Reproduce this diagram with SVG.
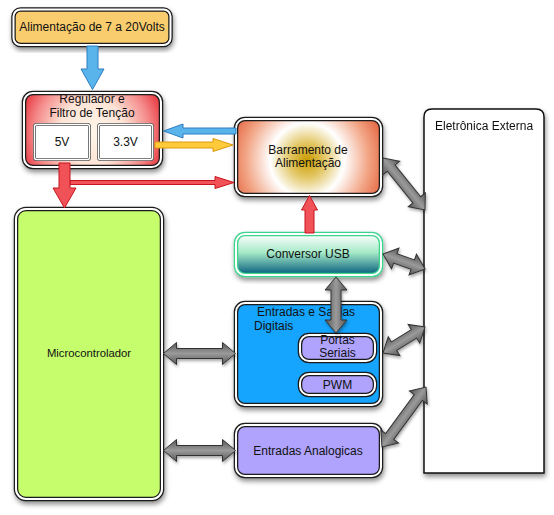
<svg xmlns="http://www.w3.org/2000/svg" width="554" height="515" viewBox="0 0 554 515">
<style>
text{font-family:"Liberation Sans",Arial,sans-serif;font-size:12px;fill:#111}
.c{text-anchor:middle}
.ob{stroke:#1a1a1a;stroke-width:4.5}
.wb{fill:none;stroke:#fff;stroke-width:2}
.gb{stroke:#555;stroke-width:3}
.wg{fill:none;stroke:#fff;stroke-width:1.4}
.ga{fill:url(#gray);stroke:#333;stroke-width:1}
.blue{fill:#5AB4EC;stroke:#2C7DC0;stroke-width:1}
.yel{fill:#FFCB3A;stroke:#D99A10;stroke-width:1}
.red{fill:#F05258;stroke:#C8141E;stroke-width:1}
</style>
<defs>
<filter id="sh" x="-20%" y="-20%" width="140%" height="140%">
<feDropShadow dx="1" dy="3" stdDeviation="2.5" flood-color="#000" flood-opacity="0.45"/>
</filter>
<filter id="sh2" x="-20%" y="-50%" width="140%" height="200%">
<feDropShadow dx="1" dy="2" stdDeviation="1.5" flood-color="#000" flood-opacity="0.35"/>
</filter>
<radialGradient id="reg" gradientUnits="userSpaceOnUse" cx="92" cy="132" r="82">
<stop offset="0" stop-color="#FFF6EA"/>
<stop offset="0.4" stop-color="#FDE4D6"/>
<stop offset="0.7" stop-color="#F48A8A"/>
<stop offset="1" stop-color="#E3131E"/>
</radialGradient>
<radialGradient id="bar" gradientUnits="userSpaceOnUse" cx="307" cy="160" r="88">
<stop offset="0" stop-color="#C99C00"/>
<stop offset="0.2" stop-color="#E3C766"/>
<stop offset="0.42" stop-color="#FFFFFF"/>
<stop offset="0.7" stop-color="#F2A484"/>
<stop offset="1" stop-color="#E04E28"/>
</radialGradient>
<linearGradient id="usb" x1="0" y1="0" x2="0" y2="1">
<stop offset="0" stop-color="#FFFFFF"/>
<stop offset="0.45" stop-color="#A6EAC8"/>
<stop offset="1" stop-color="#005A7A"/>
</linearGradient>
<linearGradient id="gray" x1="0" y1="0" x2="0" y2="1">
<stop offset="0" stop-color="#555"/>
<stop offset="0.5" stop-color="#9A9A9A"/>
<stop offset="1" stop-color="#555"/>
</linearGradient>
</defs>

<g id="ext" filter="url(#sh)">
<path d="M424,473 L424,117 Q424,109 432,109 L536,109 Q544,109 544,117 L544,473 Z" fill="#fff" stroke="#111" stroke-width="1.5"/>
<text x="435" y="130">Eletrônica Externa</text>
</g>

<g id="power">
<g filter="url(#sh)"><rect x="13.5" y="9.5" width="157" height="35.5" rx="7" fill="#F9CD6E" class="ob"/></g>
<rect x="13.5" y="9.5" width="157" height="35.5" rx="7" class="wb"/>
<text class="c" x="92" y="31">Alimentação de 7 a 20Volts</text>
</g>

<g id="regulador">
<g filter="url(#sh)"><rect x="24" y="93" width="137" height="74" rx="9" fill="url(#reg)" class="ob"/></g>
<rect x="24" y="93" width="137" height="74" rx="9" class="wb"/>
<text class="c" x="92" y="103">Regulador e</text>
<text class="c" x="92" y="117">Filtro de Tenção</text>
<g id="v5">
<rect x="34.5" y="124.5" width="55" height="35" rx="2" fill="#fff" class="gb"/>
<rect x="34.5" y="124.5" width="55" height="35" rx="2" class="wg"/>
<text class="c" x="62" y="146">5V</text>
</g>
<g id="v33">
<rect x="98.5" y="124.5" width="54" height="35" rx="2" fill="#fff" class="gb"/>
<rect x="98.5" y="124.5" width="54" height="35" rx="2" class="wg"/>
<text class="c" x="125.5" y="146">3.3V</text>
</g>
</g>

<g id="barramento">
<g filter="url(#sh)"><rect x="236" y="119" width="145" height="76" rx="9" fill="url(#bar)" class="ob"/></g>
<rect x="236" y="119" width="145" height="76" rx="9" class="wb"/>
<text class="c" x="308" y="154">Barramento de</text>
<text class="c" x="308" y="167">Alimentação</text>
</g>

<g id="usbconv">
<g filter="url(#sh)"><rect x="236" y="234" width="145" height="41" rx="9" fill="url(#usb)" stroke="#3ED48E" stroke-width="4.5"/></g>
<rect x="236" y="234" width="145" height="41" rx="9" class="wb"/>
<text class="c" x="308" y="258">Conversor USB</text>
</g>

<g id="digitais">
<g filter="url(#sh)"><rect x="236" y="303" width="145" height="102" rx="9" fill="#12A5FE" class="ob"/></g>
<rect x="236" y="303" width="145" height="102" rx="9" class="wb"/>
<text x="257" y="316">Entradas e Saidas</text>
<text x="254" y="330">Digitais</text>
<g id="seriais">
<rect x="300" y="335" width="75" height="26" rx="9" fill="#AFA3FE" class="ob"/>
<rect x="300" y="335" width="75" height="26" rx="9" class="wb"/>
<text class="c" x="337.5" y="344">Portas</text>
<text class="c" x="337.5" y="357">Seriais</text>
</g>
<g id="pwm">
<rect x="300" y="374" width="75" height="21" rx="9" fill="#AFA3FE" class="ob"/>
<rect x="300" y="374" width="75" height="21" rx="9" class="wb"/>
<text class="c" x="337.5" y="388.5">PWM</text>
</g>
</g>

<g id="analogicas">
<g filter="url(#sh)"><rect x="236" y="425" width="145" height="51" rx="9" fill="#AFA3FE" class="ob"/></g>
<rect x="236" y="425" width="145" height="51" rx="9" class="wb"/>
<text class="c" x="308" y="455">Entradas Analogicas</text>
</g>

<g id="micro">
<g filter="url(#sh)"><rect x="16" y="209" width="146" height="290" rx="10" fill="#C6FD6C" class="ob"/></g>
<rect x="16" y="209" width="146" height="290" rx="10" class="wb"/>
<text class="c" x="89" y="357" style="font-size:11.3px">Microcontrolador</text>
</g>

<g id="connectors">
<path class="blue" d="M87,46 L98,46 L98,69 L104,69 L92.5,89.5 L81,69 L87,69 Z"/>
<path class="blue" d="M236,128 L183,128 L183,124 L163.5,131 L183,138 L183,134 L236,134 Z"/>
<path class="yel" d="M155,142 L213,142 L213,138.5 L233,145 L213,151.5 L213,148 L155,148 Z"/>
<path class="red" d="M70,180.5 L215,180.5 L215,176.5 L234,182.5 L215,188.5 L215,184.5 L70,184.5 Z"/>
<path class="red" d="M59,163 L70,163 L70,188 L76,188 L64.5,208 L53,188 L59,188 Z"/>
<path class="red" d="M305,233 L305,210 L301.5,210 L309.5,195.5 L317.5,210 L314,210 L314,233 Z"/>

<g filter="url(#sh2)">
<path class="ga" transform="translate(163.5,353.5)" d="M0,0 L13,-11 L13,-5 L59,-5 L59,-11 L72,0 L59,11 L59,5 L13,5 L13,11 Z"/>
<path class="ga" transform="translate(163.5,450.5)" d="M0,0 L13,-11 L13,-5 L59,-5 L59,-11 L72,0 L59,11 L59,5 L13,5 L13,11 Z"/>
<path class="ga" transform="translate(336,277) rotate(90)" d="M0,0 L13,-11 L13,-5 L43,-5 L43,-11 L56,0 L43,11 L43,5 L13,5 L13,11 Z"/>
<path class="ga" transform="translate(383,158) rotate(51.07)" d="M0,0 L13,-11 L13,-5 L53.8,-5 L53.8,-11 L66.8,0 L53.8,11 L53.8,5 L13,5 L13,11 Z"/>
<path class="ga" transform="translate(383,254) rotate(19.65)" d="M0,0 L13,-11 L13,-5 L31.6,-5 L31.6,-11 L44.6,0 L31.6,11 L31.6,5 L13,5 L13,11 Z"/>
<path class="ga" transform="translate(383,353) rotate(-31.76)" d="M0,0 L13,-11 L13,-5 L36.4,-5 L36.4,-11 L49.4,0 L36.4,11 L36.4,5 L13,5 L13,11 Z"/>
<path class="ga" transform="translate(382,447) rotate(-53.75)" d="M0,0 L13,-11 L13,-5 L61.4,-5 L61.4,-11 L74.4,0 L61.4,11 L61.4,5 L13,5 L13,11 Z"/>
</g>
</g>
</svg>
